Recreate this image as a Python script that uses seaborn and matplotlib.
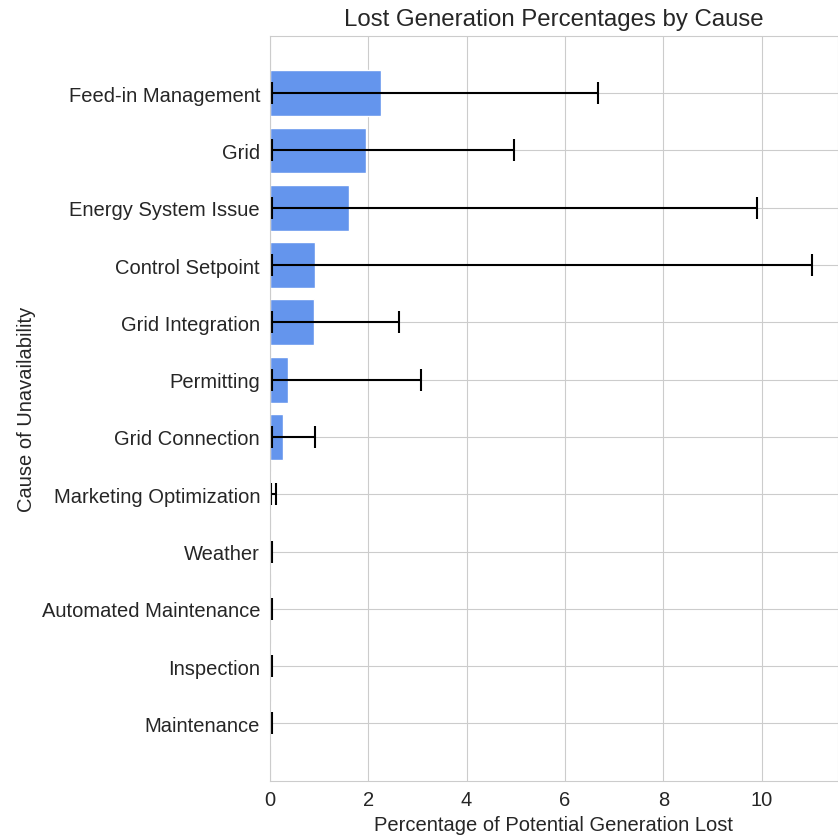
import matplotlib
matplotlib.use('Agg')
import matplotlib.pyplot as plt
import numpy as np
import pandas as pd
import seaborn as sns

causes = ['Feed-in Management', 'Grid', 'Energy System Issue', 'Control Setpoint',
          'Grid Integration', 'Permitting', 'Grid Connection', 'Marketing Optimization',
          'Weather', 'Automated Maintenance', 'Inspection', 'Maintenance']
lost_pct = [2.26, 1.95, 1.61, 0.91, 0.89, 0.36, 0.27, 0.03, 0.03, 0.03, 0.03, 0.03]
range_min = [0.035, 0.035, 0.035, 0.035, 0.035, 0.035, 0.035, 0.03, 0.03, 0.03, 0.03, 0.03]
range_max = [6.67, 4.96, 9.9, 11.03, 2.63, 3.08, 0.91, 0.13, 0.04, 0.04, 0.04, 0.04]

df = pd.DataFrame({'cause': causes, 'lost': lost_pct})

sns.set_style('whitegrid')
plt.rcParams['font.family'] = ['Liberation Sans', 'DejaVu Sans']

fig = plt.figure(figsize=(8.38, 8.37), dpi=100)
ax = fig.add_axes([0.322, 0.066, 0.678, 0.890])

sns.barplot(data=df, y='cause', x='lost', orient='h', color='cornflowerblue',
            saturation=1, width=0.8, errorbar=None, ax=ax)

lost = np.array(lost_pct)
xerr = [lost - np.array(range_min), np.array(range_max) - lost]
ax.errorbar(lost, np.arange(len(causes)), xerr=xerr, fmt='none', ecolor='black',
            elinewidth=1.5, capsize=8, capthick=1.5)

# seaborn drops the grid on the categorical axis, bring it back
ax.grid(True, axis='both')
ax.set_axisbelow(True)

ax.set_xlim(0, 11.55)
ax.set_ylim(len(causes), -1)
ax.tick_params(axis='both', labelsize=14.5, colors='.15')
ax.set_xlabel('Percentage of Potential Generation Lost', fontsize=14.5, color='.15')
ax.set_ylabel('Cause of Unavailability', fontsize=14.5, color='.15')
ax.set_title('Lost Generation Percentages by Cause', fontsize=17.3, color='.15', pad=8)

fig.savefig('out.png', dpi=100)
